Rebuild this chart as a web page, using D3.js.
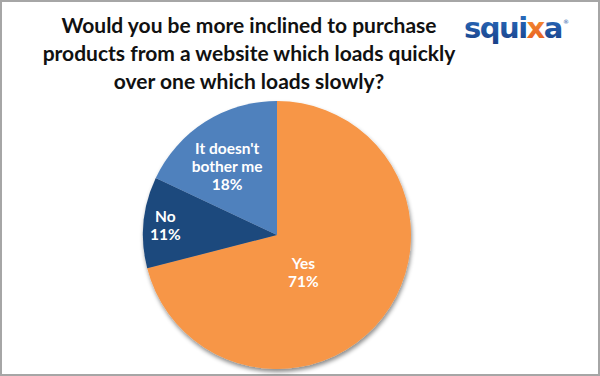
<!DOCTYPE html>
<html>
<head>
<meta charset="utf-8">
<script src="https://cdn.jsdelivr.net/npm/d3@7"></script>
<style>
  body { margin: 0; background: #fff; }
  svg { display: block; }
</style>
</head>
<body>
<div id="chart"></div>
<script>
// DATA
const categories = ["Yes", "No", "It doesn't bother me"]
const values = [71, 11, 18]
const titleLines = ["Would you be more inclined to purchase",
  "products from a website which loads quickly",
  "over one which loads slowly?"]

const width = 600, height = 376
const colors = ["#f79646", "#1f497d", "#4f81bd"]
// label distance from centre (fraction of radius) + small nudge, Excel places them unevenly
const labelFrac = [0.4, 0.8, 0.68]
const labelNudge = [[-16, 5], [-5, 1], [-1, 9]]
const labelLines = [["Yes"], ["No"], ["It doesn't", "bother me"]]

const svg = d3.select("#chart").append("svg")
    .attr("width", width)
    .attr("height", height)
    .style("font-family", "Lato, 'Open Sans', sans-serif")

const defs = svg.append("defs")

// border
svg.append("rect")
    .attr("x", 1).attr("y", 1)
    .attr("width", width - 2).attr("height", height - 2)
    .attr("fill", "#fff")
    .attr("stroke", "#a6a6a6")
    .attr("stroke-width", 2)

// TITLE
svg.append("g")
    .selectAll("text")
    .data(titleLines)
    .join("text")
    .attr("x", 249)
    .attr("y", (d, i) => 33 + i * 28)
    .attr("text-anchor", "middle")
    .attr("font-size", 21)
    .attr("font-weight", "bold")
    .attr("fill", "#111")
    .text(d => d)

// LOGO gradients
const gBlue = defs.append("linearGradient").attr("id", "logoBlue")
    .attr("x1", 0).attr("y1", 0).attr("x2", 0).attr("y2", 1)
gBlue.append("stop").attr("offset", "0%").attr("stop-color", "#2b72c4")
gBlue.append("stop").attr("offset", "100%").attr("stop-color", "#193f86")
const gOr = defs.append("linearGradient").attr("id", "logoOrange")
    .attr("x1", 0).attr("y1", 0).attr("x2", 0).attr("y2", 1)
gOr.append("stop").attr("offset", "0%").attr("stop-color", "#f79a3a")
gOr.append("stop").attr("offset", "100%").attr("stop-color", "#e5561c")

const logo = svg.append("text")
    .attr("x", 464)
    .attr("y", 38)
    .attr("font-family", "'DejaVu Sans', Verdana, sans-serif")
    .attr("font-size", 29)
    .attr("font-weight", "bold")
    .attr("letter-spacing", -1.5)
    .attr("fill", "url(#logoBlue)")
logo.append("tspan").text("squi")
logo.append("tspan").attr("fill", "url(#logoOrange)").text("x")
logo.append("tspan").text("a")
logo.append("tspan").attr("font-size", 6).attr("font-weight", "normal")
    .attr("dx", 1).attr("dy", -14).attr("fill", "#1c58a4").text("®")

// shadow filter
const f = defs.append("filter").attr("id", "shadow")
    .attr("x", "-20%").attr("y", "-20%").attr("width", "140%").attr("height", "140%")
f.append("feDropShadow")
    .attr("dx", 1).attr("dy", 3)
    .attr("stdDeviation", 2)
    .attr("flood-color", "#000")
    .attr("flood-opacity", 0.45)

// PIE
const cx = 277, cy = 235, R = 134
const pie = d3.pie().sort(null).value(d => d)
const arcs = pie(values)
const arc = d3.arc().innerRadius(0).outerRadius(R)

const g = svg.append("g").attr("transform", `translate(${cx},${cy})`)

g.append("g")
    .attr("filter", "url(#shadow)")
    .selectAll("path")
    .data(arcs)
    .join("path")
    .attr("d", arc)
    .attr("fill", (d, i) => colors[i])

// LABELS
const labels = g.append("g")
    .selectAll("text")
    .data(arcs)
    .join("text")
    .attr("transform", (d, i) => {
        const r = R * labelFrac[i]
        const c = d3.arc().innerRadius(r).outerRadius(r).centroid(d)
        return `translate(${c[0] + labelNudge[i][0]},${c[1] + labelNudge[i][1]})`
    })
    .attr("text-anchor", "middle")
    .attr("font-size", 15.5)
    .attr("font-weight", "bold")
    .attr("fill", "#fff")

labels.each(function (d, i) {
    const lines = labelLines[i].concat([values[i] + "%"])
    const t = d3.select(this)
    const y0 = -(lines.length - 1) * 18 / 2 + 5
    lines.forEach((l, j) => {
        t.append("tspan").attr("x", 0).attr("y", y0 + j * 18).text(l)
    })
})
</script>
</body>
</html>
